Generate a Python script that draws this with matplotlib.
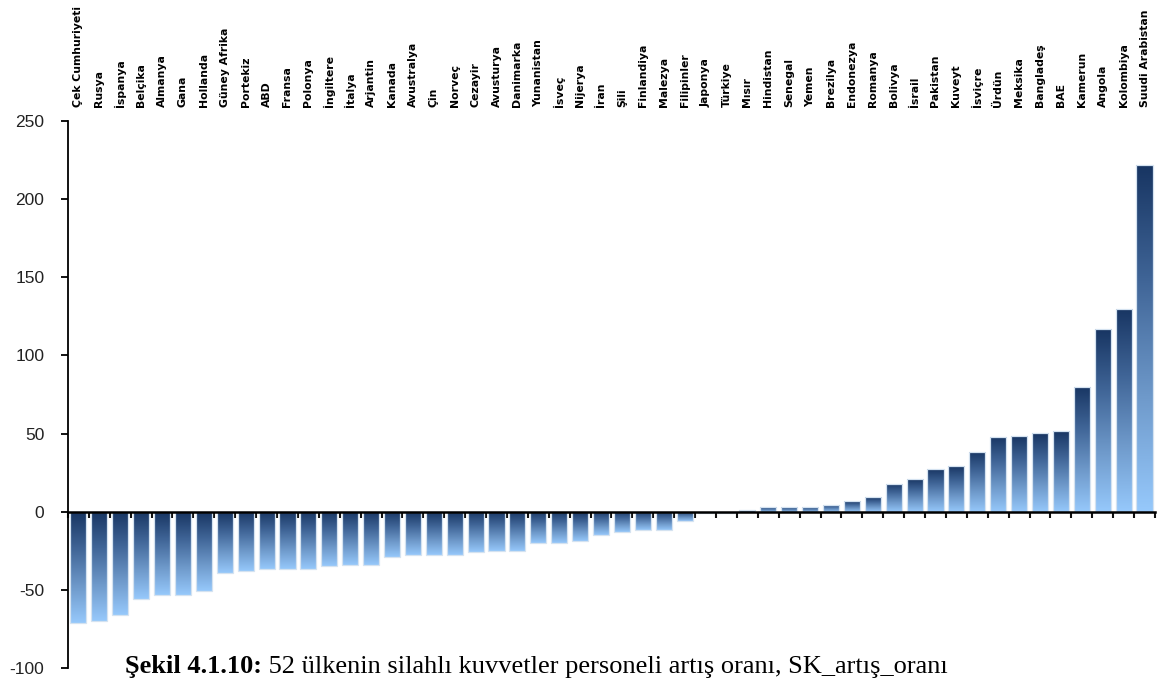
import numpy as np
import matplotlib
matplotlib.use("Agg")
import matplotlib.pyplot as plt
from matplotlib.colors import LinearSegmentedColormap
from matplotlib.patches import Rectangle

countries = [
    "Çek Cumhuriyeti", "Rusya", "İspanya", "Belçika", "Almanya", "Gana",
    "Hollanda", "Güney Afrika", "Portekiz", "ABD", "Fransa", "Polonya",
    "İngiltere", "İtalya", "Arjantin", "Kanada", "Avustralya", "Çin",
    "Norveç", "Cezayir", "Avusturya", "Danimarka", "Yunanistan", "İsveç",
    "Nijerya", "İran", "Şili", "Finlandiya", "Malezya", "Filipinler",
    "Japonya", "Türkiye", "Mısır", "Hindistan", "Senegal", "Yemen",
    "Brezilya", "Endonezya", "Romanya", "Bolivya", "İsrail", "Pakistan",
    "Kuveyt", "İsviçre", "Ürdün", "Meksika", "Bangladeş", "BAE",
    "Kamerun", "Angola", "Kolombiya", "Suudi Arabistan",
]
growth = [
    -71, -70, -66, -56, -53, -53,
    -50.5, -39, -38, -36.5, -36.5, -36.5,
    -35, -34, -34, -29, -27.5, -27.5,
    -27.5, -26, -25, -25, -20, -20,
    -18.5, -15, -13, -12, -12, -6,
    -1, -1, 1, 3, 3, 3,
    4.5, 7, 9.5, 18, 21, 27.5,
    29, 38.5, 48, 48.6, 50.5, 51.5,
    80, 117, 130, 222,
]
yticks = [-100, -50, 0, 50, 100, 150, 200, 250]

caption_bold = "Şekil 4.1.10:"
caption_rest = " 52 ülkenin silahlı kuvvetler personeli artış oranı, SK_artış_oranı"

fig = plt.figure(figsize=(11.58, 6.84), dpi=100)
ax = fig.add_axes([0.0587, 0.0234, 0.9387, 0.7997])

cmap = LinearSegmentedColormap.from_list("bar", ["#99ccff", "#6f9acb", "#3f6496", "#15325f"])
grad = np.linspace(0, 1, 256).reshape(-1, 1)

x = np.arange(len(countries))
width = 0.77
for xi, v in zip(x, growth):
    lo, hi = min(0, v), max(0, v)
    rect = Rectangle((xi - width / 2, lo), width, hi - lo,
                     fill=False, edgecolor="#d4e2f0", linewidth=0.9, zorder=3)
    ax.add_patch(rect)
    # gradient drawn a touch larger than the bar and clipped to it
    pad = 0.02 * (hi - lo) + 0.3
    im = ax.imshow(grad, cmap=cmap, origin="lower", aspect="auto",
                   extent=[xi - width / 2 - 0.05, xi + width / 2 + 0.05, lo - pad, hi + pad],
                   interpolation="bilinear", zorder=2)
    im.set_clip_path(rect)

ax.set_xlim(-0.5, len(countries) - 0.5)
ax.set_ylim(-100, 250)
ax.set_yticks(yticks)
ax.set_yticklabels([str(t) for t in yticks], fontsize=12.5, family="Liberation Sans", color="#222222")
ax.tick_params(axis="y", direction="out", length=5, width=1.3, pad=12)

# category boundary ticks hang below the zero line
ax.set_xticks(np.arange(-0.5, len(countries), 1))
ax.set_xticklabels([])
ax.tick_params(axis="x", direction="out", length=4, width=1.5, color="#111111")

for side in ("top", "right"):
    ax.spines[side].set_visible(False)
ax.spines["bottom"].set_position(("data", 0))
ax.spines["bottom"].set_linewidth(1.8)
ax.spines["bottom"].set_zorder(4)
ax.spines["left"].set_linewidth(1.3)

top = ax.secondary_xaxis("top")
top.set_xticks(x)
top.set_xticklabels(countries, rotation=90, fontsize=7.8, fontweight="bold",
                    family="DejaVu Sans", va="bottom", ha="center")
top.tick_params(length=0, pad=10)
top.spines["top"].set_visible(False)

t = fig.text(125 / 1158, 1 - 673 / 684, caption_bold, fontsize=19, fontweight="bold",
             family="Liberation Serif", va="baseline")
ax.annotate(caption_rest, xy=(1, 0), xycoords=t, va="bottom", ha="left",
            fontsize=19, family="Liberation Serif", annotation_clip=False)

fig.savefig("out.png", dpi=100)
